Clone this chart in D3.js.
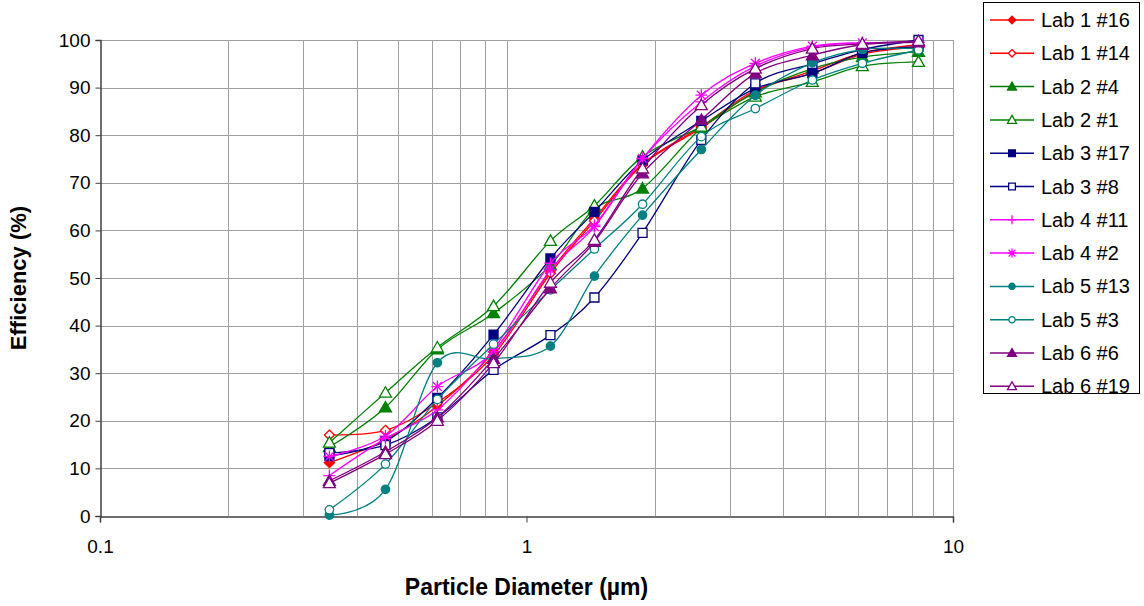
<!DOCTYPE html>
<html>
<head>
<meta charset="utf-8">
<script src="https://cdn.jsdelivr.net/npm/d3@7"></script>
<style>
  body { margin: 0; background: #fff; }
  text { font-family: "Liberation Sans", Arial, sans-serif; }
</style>
</head>
<body>
<svg id="chart"></svg>
<script>
// particle sizes (um) of the channels
var diameters = [0.345, 0.467, 0.618, 0.837, 1.138, 1.443, 1.871, 2.57, 3.44, 4.68, 6.13, 8.30];

var names = ["Lab 1 #16", "Lab 1 #14", "Lab 2 #4", "Lab 2 #1", "Lab 3 #17", "Lab 3 #8",
             "Lab 4 #11", "Lab 4 #2", "Lab 5 #13", "Lab 5 #3", "Lab 6 #6", "Lab 6 #19"];

var lab1_16 = [11.2, 16.0, 23.1, 34.5, 51.5, 62.5, 74.0, 81.8, 89.5, 93.0, 97.0, 98.5];
var lab1_14 = [17.0, 18.0, 23.8, 33.8, 51.0, 62.0, 73.8, 81.5, 89.2, 93.5, 97.3, 99.0];
var lab2_4  = [14.5, 22.8, 35.0, 42.6, 52.7, 64.5, 68.8, 81.5, 89.0, 94.0, 96.4, 97.5];
var lab2_1  = [15.4, 25.9, 35.4, 44.1, 57.8, 65.2, 75.5, 81.8, 88.1, 91.2, 94.5, 95.4];
var lab3_17 = [12.6, 15.7, 24.8, 38.1, 54.1, 63.9, 74.7, 83.0, 89.8, 93.0, 97.3, 98.6];
var lab3_8  = [13.2, 14.9, 20.7, 30.7, 38.0, 45.9, 59.5, 79.0, 90.9, 95.0, 98.0, 100.0];
var lab4_11 = [8.5, 16.3, 22.3, 35.0, 53.1, 61.1, 75.1, 87.0, 94.5, 98.5, 99.4, 99.5];
var lab4_2  = [12.5, 16.8, 27.2, 34.5, 51.7, 60.8, 75.1, 88.4, 95.1, 98.7, 99.4, 99.5];
var lab5_13 = [0.2, 5.6, 32.2, 33.0, 35.7, 50.4, 63.2, 77.0, 88.4, 95.2, 98.0, 98.2];
var lab5_3  = [1.3, 10.9, 24.5, 36.1, 47.5, 56.1, 65.5, 79.7, 85.6, 91.6, 95.1, 97.9];
var lab6_6  = [7.4, 13.5, 20.7, 33.0, 47.8, 57.6, 72.0, 83.2, 93.0, 96.8, 99.0, 99.5];
var lab6_19 = [6.9, 13.0, 20.0, 32.1, 49.0, 58.0, 73.0, 86.3, 94.0, 98.2, 99.2, 99.8];

var seriesValues = [lab1_16, lab1_14, lab2_4, lab2_1, lab3_17, lab3_8,
                    lab4_11, lab4_2, lab5_13, lab5_3, lab6_6, lab6_19];

var colors = ["#ff0000", "#ff0000", "#008000", "#008000", "#000080", "#000080",
              "#ff00ff", "#ff00ff", "#008080", "#008080", "#800080", "#800080"];
var markers = ["diamond", "diamond", "triangle", "triangle", "square", "square",
               "plus", "star", "circle", "circle", "triangle", "triangle"];
var filled = [true, false, true, false, true, false, false, false, true, false, true, false];

var yTicks = [0, 10, 20, 30, 40, 50, 60, 70, 80, 90, 100];
var xTicks = [0.1, 1, 10];

var width = 1144, height = 606;
var plotLeft = 100, plotRight = 953, plotTop = 40, plotBottom = 516;

var chart = d3.select("#chart").attr("width", width).attr("height", height);

var xscale = d3.scaleLog().domain([0.1, 10]).range([plotLeft, plotRight]);
var yscale = d3.scaleLinear().domain([0, 100]).range([plotBottom, plotTop]);

// minor log grid
var gridX = [];
[0.1, 1].forEach(function(dec) {
  for (var k = 2; k <= 9; k++) gridX.push(dec * k);
});
gridX.push(10);

chart.append("g").selectAll("line").data(gridX).enter().append("line")
    .attr("x1", function(d) { return Math.round(xscale(d)) + 0.5; })
    .attr("x2", function(d) { return Math.round(xscale(d)) + 0.5; })
    .attr("y1", plotTop).attr("y2", plotBottom)
    .style("stroke", "#a0a0a0").style("stroke-width", 1);

chart.append("g").selectAll("line").data(yTicks.slice(1)).enter().append("line")
    .attr("x1", plotLeft).attr("x2", plotRight)
    .attr("y1", function(d) { return Math.round(yscale(d)) + 0.5; })
    .attr("y2", function(d) { return Math.round(yscale(d)) + 0.5; })
    .style("stroke", "#a0a0a0").style("stroke-width", 1);

// axes
var yAxis = chart.append("g")
    .attr("transform", "translate(" + (plotLeft + 0.5) + ",0)")
    .call(d3.axisLeft(yscale).tickValues(yTicks).tickSize(5).tickPadding(5).tickFormat(d3.format("d")));
var xAxis = chart.append("g")
    .attr("transform", "translate(0," + (plotBottom + 0.5) + ")")
    .call(d3.axisBottom(xscale).tickValues(xTicks).tickSize(6).tickPadding(17)
      .tickFormat(function(d) { return String(d); }));

[yAxis, xAxis].forEach(function(ax) {
  ax.select(".domain").style("stroke", "#404040").style("stroke-width", 1.5);
  ax.selectAll(".tick line").style("stroke", "#404040");
  ax.selectAll("text").style("font-size", "19px").style("fill", "#000")
    .style("font-family", "'Liberation Sans', Arial, sans-serif");
});

// titles
chart.append("text")
    .attr("x", (plotLeft + plotRight) / 2).attr("y", 595)
    .attr("text-anchor", "middle")
    .style("font-size", "23px").style("font-weight", "bold")
    .text("Particle Diameter (µm)");
chart.append("text")
    .attr("transform", "translate(26," + ((plotTop + plotBottom) / 2) + ") rotate(-90)")
    .attr("text-anchor", "middle")
    .style("font-size", "22px").style("font-weight", "bold")
    .text("Efficiency (%)");

function markerPath(type, k) {
  var p = d3.path();
  if (type == "diamond") {
    var s = 5 * k;
    p.moveTo(0, -s); p.lineTo(s, 0); p.lineTo(0, s); p.lineTo(-s, 0); p.closePath();
  } else if (type == "triangle") {
    var s = 6 * k;
    p.moveTo(0, -s); p.lineTo(s, s * 0.75); p.lineTo(-s, s * 0.75); p.closePath();
  } else if (type == "square") {
    var s = 4.5 * k;
    p.rect(-s, -s, 2 * s, 2 * s);
  } else if (type == "circle") {
    var s = 4.2 * k;
    p.moveTo(s, 0); p.arc(0, 0, s, 0, 2 * Math.PI);
  } else if (type == "plus") {
    var s = 6 * k;
    p.moveTo(-s, 0); p.lineTo(s, 0); p.moveTo(0, -s); p.lineTo(0, s);
  } else if (type == "star") {
    var s = 6 * k, t = s * 0.75;
    p.moveTo(-s, 0); p.lineTo(s, 0); p.moveTo(0, -s); p.lineTo(0, s);
    p.moveTo(-t, -t); p.lineTo(t, t); p.moveTo(-t, t); p.lineTo(t, -t);
  }
  return p.toString();
}

var line = d3.line()
    .x(function(d) { return xscale(d.x); })
    .y(function(d) { return yscale(d.y); })
    .curve(d3.curveCardinal.tension(0));

var series = names.map(function(n, i) {
  return {
    name: n, color: colors[i], marker: markers[i], filled: filled[i],
    points: diameters.map(function(x, j) { return { x: x, y: seriesValues[i][j] }; })
  };
});

var plot = chart.append("g");
series.forEach(function(s) {
  var g = plot.append("g");
  g.append("path")
      .attr("d", line(s.points))
      .style("fill", "none")
      .style("stroke", s.color)
      .style("stroke-width", 1.3);
  g.selectAll("path.m").data(s.points).enter().append("path")
      .attr("class", "m")
      .attr("transform", function(d) { return "translate(" + xscale(d.x) + "," + yscale(d.y) + ")"; })
      .attr("d", markerPath(s.marker, 1))
      .style("fill", (s.marker == "plus" || s.marker == "star") ? "none" : (s.filled ? s.color : "#fff"))
      .style("stroke", s.color)
      .style("stroke-width", 1.3);
});

// legend
var legend = chart.append("g");
legend.append("rect")
    .attr("x", 983.5).attr("y", 2.5).attr("width", 156).attr("height", 391)
    .style("fill", "#fff").style("stroke", "#000").style("stroke-width", 1);

var rows = legend.selectAll("g.row").data(series).enter().append("g")
    .attr("class", "row")
    .attr("transform", function(d, i) { return "translate(0," + (20 + i * 33.3) + ")"; });
rows.append("line")
    .attr("x1", 990).attr("x2", 1034).attr("y1", 0).attr("y2", 0)
    .style("stroke", function(d) { return d.color; }).style("stroke-width", 1.5);
rows.append("path")
    .attr("transform", "translate(1012,0)")
    .attr("d", function(d) { return markerPath(d.marker, 0.75); })
    .style("fill", function(d) { return (d.marker == "plus" || d.marker == "star") ? "none" : (d.filled ? d.color : "#fff"); })
    .style("stroke", function(d) { return d.color; })
    .style("stroke-width", 1.3);
rows.append("text")
    .attr("x", 1041).attr("y", 7)
    .style("font-size", "20px")
    .text(function(d) { return d.name; });
</script>
</body>
</html>
